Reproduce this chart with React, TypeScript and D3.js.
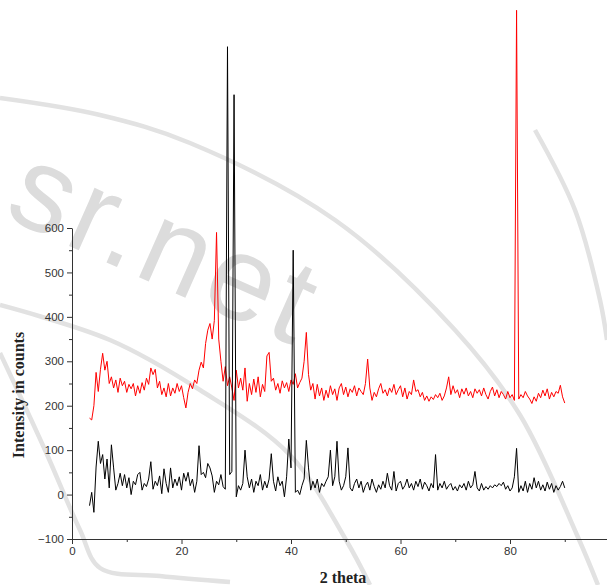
import React, { useEffect, useRef } from "react";
import * as d3 from "d3";

// 2-theta scan grid (degrees): constant step scan from 3.2 to 90.0
const THETA_START = 3.2;
const THETA_STEP = 0.4;

// Red pattern (upper curve)
const RED_COUNTS = [
  172, 168, 200, 275, 232, 282, 318, 280, 300, 250,
  265, 240, 258, 230, 262, 245, 255, 230, 248, 238,
  250, 222, 245, 228, 252, 235, 262, 248, 285, 270,
  282, 240, 255, 225, 240, 220, 250, 222, 240, 228,
  250, 232, 245, 218, 195, 230, 250, 238, 258, 250,
  280, 298, 285, 340, 370, 385, 350, 392, 590, 350,
  300, 255, 288, 245, 265, 240, 212, 280, 240, 262,
  235, 285, 210, 250, 225, 260, 230, 265, 220, 248,
  232, 312, 320, 255, 262, 235, 250, 228, 256, 240,
  252, 232, 258, 248, 272, 240, 252, 262, 300, 365,
  270, 235, 250, 215, 248, 222, 240, 212, 235, 218,
  245, 225, 238, 212, 240, 250, 225, 242, 220, 238,
  230, 245, 222, 240, 232, 225, 250, 305, 240, 212,
  230, 220, 238, 250, 228, 236, 222, 240, 230, 248,
  225, 236, 245, 220, 240, 215, 232, 225, 258, 232,
  236, 220, 230, 212, 222, 210, 220, 214, 225, 218,
  228, 212, 222, 240, 265, 225, 245, 228, 236, 218,
  238, 226, 240, 222, 232, 218, 238, 228, 236, 222,
  240, 225, 215, 232, 242, 222, 236, 218, 232, 225,
  215, 232, 218, 225, 212, 1090, 215, 225, 218, 232,
  222, 215, 205, 220, 210, 228, 218, 235, 222, 238,
  215, 230, 220, 232, 228, 246, 220, 206,
];

// Black pattern (lower curve)
const BLACK_COUNTS = [
  -25, 5, -40, 62, 120, 70, 90, 35, 80, 15,
  112, 60, 10, 25, 48, 20, 45, 15, 38, 0,
  30, 22, 45, 50, 10, 25, 18, 35, 74, 12,
  30, 20, 42, 2, 58, 25, 5, 60, 15, 35,
  20, 40, 10, 48, 30, 50, 20, 35, 5, 30,
  110, 45, 50, 38, 70, 60, 42, 5, 30, 22,
  45, 18, 12, 1008, 45, 52, 900, -5, 20, 10,
  25, 100, 40, 15, 35, 5, 30, 20, 45, 10,
  30, 15, 35, 92, 30, 8, 40, 20, 30, -5,
  40, 125, 60, 550, 5, 10, 0, 20, 35, 122,
  60, 10, 30, 15, 35, 5, 25, 18, 30, 40,
  100, 20, 40, 120, 30, 10, 20, 40, 105, 15,
  8, 25, 35, 15, 30, 5, 20, 28, 10, 35,
  18, 5, 22, 12, 30, 15, 48, 20, 10, 52,
  8, 25, 30, 12, 20, 35, 15, 25, 10, 30,
  18, 35, 12, 28, 20, 8, 25, 15, 90, 10,
  25, 15, 30, 12, 20, 25, 10, 18, 8, 22,
  15, 25, 10, 30, 15, 22, 52, 15, 8, 25,
  10, 18, 12, 20, 15, 22, 18, 25, 20, 28,
  12, 20, 8, 15, 40, 104, 5, 20, 8, 30,
  5, 25, 12, 38, 15, 30, 10, 22, 8, 28,
  12, 25, 5, 20, 10, 18, 30, 15,
];

const X_MAJOR = [0, 20, 40, 60, 80];
const X_MINOR = [10, 30, 50, 70, 90];
const Y_MAJOR = [-100, 0, 100, 200, 300, 400, 500, 600];
const Y_MINOR = [-50, 50, 150, 250, 350, 450, 550];

const X_TITLE = "2 theta";
const Y_TITLE = "Intensity in counts";
const WATERMARK = "sr.net";

// background watermark decoration (screen space)
const WM_ARCS: [number, number][][] = [
  [[0, 98], [100, 115], [190, 143], [335, 220], [455, 330], [520, 415], [577, 535], [598, 585]],
  [[0, 305], [110, 340], [200, 390], [290, 455], [346, 540], [370, 585]],
  [[0, 353], [45, 450], [80, 530], [100, 568], [160, 576], [230, 582]],
  [[535, 130], [575, 210], [600, 300], [607, 340]],
];

const W = 607;
const H = 585;

export default function App() {
  const xAxisRef = useRef<SVGGElement>(null);
  const yAxisRef = useRef<SVGGElement>(null);

  const x = d3.scaleLinear().domain([0, 98]).range([72, 72 + 98 * 5.475]);
  const y = d3.scaleLinear().domain([-100, 600]).range([539, 228]);

  const theta = RED_COUNTS.map((_, i) => THETA_START + THETA_STEP * i);

  const line = d3
    .line<number>()
    .x((_, i) => x(theta[i]))
    .y((d) => y(d));

  const wmLine = d3
    .line<[number, number]>()
    .x((d) => d[0])
    .y((d) => d[1])
    .curve(d3.curveCatmullRom);

  useEffect(() => {
    const axisColor = "#333";
    const gx = d3.select(xAxisRef.current!);
    gx.selectAll("*").remove();
    gx.call(
      d3.axisBottom(x).tickValues(X_MAJOR).tickSize(5).tickSizeOuter(0).tickPadding(3)
    );
    gx.append("g").call(
      d3.axisBottom(x).tickValues(X_MINOR).tickSize(3).tickFormat(() => "")
    ).select(".domain").remove();
    gx.selectAll("path,line").attr("stroke", axisColor);
    gx.selectAll("text")
      .attr("fill", "#333")
      .attr("font-size", 11.5)
      .attr("font-family", "Liberation Sans, Arial, sans-serif");

    const gy = d3.select(yAxisRef.current!);
    gy.selectAll("*").remove();
    gy.call(
      d3.axisLeft(y).tickValues(Y_MAJOR).tickSize(5).tickSizeOuter(0).tickPadding(3)
    );
    gy.append("g").call(
      d3.axisLeft(y).tickValues(Y_MINOR).tickSize(3).tickFormat(() => "")
    ).select(".domain").remove();
    gy.selectAll("path,line").attr("stroke", axisColor);
    gy.selectAll("text")
      .attr("fill", "#333")
      .attr("font-size", 11.5)
      .attr("font-family", "Liberation Sans, Arial, sans-serif");
  }, []);

  return (
    <svg
      width={W}
      height={H}
      style={{ position: "fixed", left: 0, top: 0, background: "#fff" }}
    >
      <rect width={W} height={H} fill="#fff" />
      {/* watermark */}
      <g>
        {WM_ARCS.map((pts, i) => (
          <path key={i} d={wmLine(pts) || ""} fill="none" stroke="#e2e2e2" strokeWidth={4.5} />
        ))}
        <text
          transform="translate(2,216) rotate(24)"
          fontSize={120}
          fontFamily="Liberation Sans, Arial, sans-serif"
          fill="#dcdcdc"
          letterSpacing={5}
        >
          {WATERMARK}
        </text>
      </g>

      <path d={line(RED_COUNTS) || ""} fill="none" stroke="#ff0000" strokeWidth={1} />
      <path d={line(BLACK_COUNTS) || ""} fill="none" stroke="#000" strokeWidth={1} />

      <g ref={xAxisRef} transform={`translate(0,${y(-100)})`} />
      <g ref={yAxisRef} transform={`translate(${x(0)},0)`} />

      <text
        x={343}
        y={583}
        textAnchor="middle"
        fontFamily="Liberation Serif, Times New Roman, serif"
        fontWeight="bold"
        fontSize={16}
        fill="#222"
      >
        {X_TITLE}
      </text>
      <text
        transform={`translate(24,${395}) rotate(-90)`}
        textAnchor="middle"
        fontFamily="Liberation Serif, Times New Roman, serif"
        fontWeight="bold"
        fontSize={16}
        fill="#222"
      >
        {Y_TITLE}
      </text>
    </svg>
  );
}
